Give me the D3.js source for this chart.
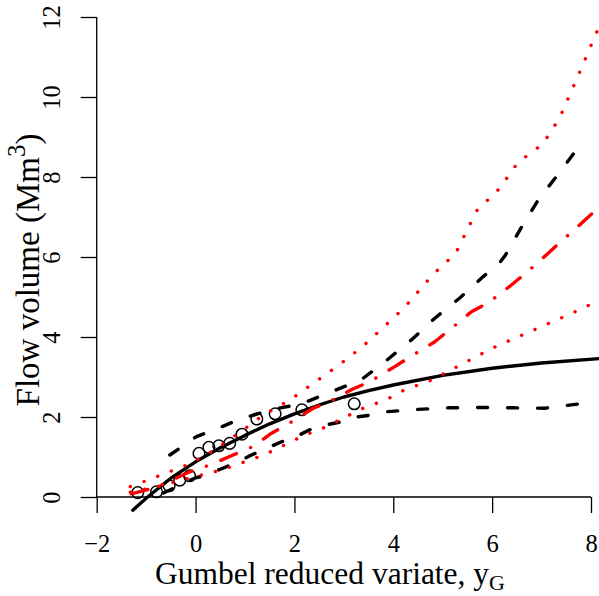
<!DOCTYPE html>
<html>

<head>
    <meta charset="utf-8">
    <style>
        body {
            margin: 0;
            background: #fff;
        }

        svg {
            display: block;
            font-family: 'Liberation Serif', 'Times New Roman', serif;
        }
    </style>
</head>

<body>
    <svg width="599" height="596"></svg>
</body>

<script src="https://d3js.org/d3.v7.min.js"></script>

<script>
    // observed floods (Gringorten positions)
    let obsX = [-1.17, -0.79, -0.535, -0.32, -0.12, 0.07, 0.27, 0.47, 0.69, 0.94, 1.24, 1.61, 2.15, 3.21]
    let obsY = [0.11, 0.13, 0.28, 0.42, 0.53, 1.09, 1.24, 1.28, 1.34, 1.57, 1.95, 2.08, 2.18, 2.33]

    // fitted curve, black solid
    let fitX = [-1.27, -1, -0.5, 0, 0.5, 1, 1.5, 2, 2.5, 3, 3.5, 4, 5, 6, 7, 8.16]
    let fitY = [-0.33, -0.03, 0.47, 0.88, 1.23, 1.54, 1.83, 2.08, 2.3, 2.5, 2.66, 2.8, 3.04, 3.22, 3.35, 3.46]

    // black dashed bounds
    let upX = [-0.52, 0.02, 0.5, 0.88, 1.56, 2.14, 2.71, 3.35, 3.86, 4.37, 4.84, 5.34, 5.82, 6.15, 6.27, 6.61, 6.94, 7.35, 7.78]
    let upY = [1.05, 1.51, 1.74, 1.94, 2.19, 2.33, 2.61, 2.93, 3.41, 3.93, 4.47, 4.97, 5.51, 5.85, 6.05, 6.78, 7.44, 8.09, 8.8]
    let loX = [-0.65, -0.02, 0.22, 0.55, 0.79, 1.13, 1.37, 1.74, 1.97, 2.31, 2.55, 2.95, 3.19, 3.56, 3.83, 4.5, 5.14, 5.78, 6.42, 7.06, 7.78]
    let loY = [0.1, 0.47, 0.55, 0.72, 0.84, 1.05, 1.18, 1.38, 1.47, 1.68, 1.78, 1.88, 1.99, 2.05, 2.13, 2.19, 2.23, 2.24, 2.23, 2.22, 2.33]

    // red dot-dash middle and dotted bounds
    let redX = [-1.3, -0.99, -0.76, -0.12, 0.29, 0.76, 1.16, 1.53, 1.84, 2.38, 2.71, 3.15, 3.52, 4.03, 4.4, 4.84, 5.14, 5.58, 5.95, 6.39, 6.71, 7.13, 7.43, 7.84, 8.18]
    let redY = [0.08, 0.18, 0.26, 0.63, 0.8, 1.05, 1.26, 1.59, 1.8, 2.22, 2.38, 2.68, 2.88, 3.26, 3.55, 3.88, 4.18, 4.63, 4.88, 5.3, 5.63, 6.09, 6.43, 6.88, 7.26]
    let redUpX = [-1.32, -0.8, -0.17, 0.35, 0.9, 1.37, 1.9, 2.38, 2.88, 3.36, 3.58, 4.23, 4.8, 5.26, 5.69, 6.14, 6.52, 7.03, 7.37, 7.76, 8.16]
    let redUpY = [0.26, 0.5, 0.8, 1.15, 1.62, 2.05, 2.42, 2.84, 3.28, 3.74, 3.99, 4.74, 5.56, 6.09, 7.16, 7.7, 8.36, 8.83, 9.49, 10.59, 11.75]
    let redLoX = [-1.32, -0.8, -0.2, 0.54, 1.38, 1.67, 2.21, 2.51, 3.05, 3.33, 3.64, 3.93, 4.2, 4.79, 6.0, 7.35, 7.64, 7.93, 8.16]
    let redLoY = [0.12, 0.25, 0.45, 0.68, 1.05, 1.22, 1.55, 1.68, 2.01, 2.19, 2.33, 2.48, 2.66, 2.93, 3.72, 4.45, 4.61, 4.78, 4.9]

    let xTicks = [-2, 0, 2, 4, 6, 8]
    let yTicks = [0, 2, 4, 6, 8, 10, 12]

    let svg = d3.select("svg")

    let x = d3.scaleLinear().domain([-2, 8]).range([96.7, 591])
    let y = d3.scaleLinear().domain([0, 12]).range([497, 17])

    let fmt = d => d < 0 ? "\u2212" + Math.abs(d) : String(d)

    // axes
    let xAxis = svg.append("g")
        .attr("transform", "translate(0," + y(0) + ")")
        .call(d3.axisBottom(x).tickValues(xTicks).tickSize(16).tickPadding(22).tickFormat(fmt))
    let yAxis = svg.append("g")
        .attr("transform", "translate(" + x(-2) + ",0)")
        .call(d3.axisLeft(y).tickValues(yTicks).tickSize(16).tickFormat(fmt))

    svg.selectAll(".domain, .tick line")
        .attr("stroke", "#000")
        .attr("stroke-width", 1.3)
    xAxis.select(".domain").attr("d", "M" + x(-2) + ",0H" + x(8))
    yAxis.select(".domain").attr("d", "M0," + y(0) + "V" + y(12))

    xAxis.selectAll(".tick text")
        .attr("font-family", "'Liberation Serif', serif")
        .attr("font-size", 24.5)
        .attr("fill", "#000")
    yAxis.selectAll(".tick text")
        .attr("font-family", "'Liberation Serif', serif")
        .attr("font-size", 24.5)
        .attr("fill", "#000")
        .attr("text-anchor", "middle")
        .attr("dy", 0)
        .attr("x", 0)
        .attr("transform", "translate(-37,0) rotate(-90)")

    // axis titles
    let xt = svg.append("text")
        .attr("x", 330)
        .attr("y", 584)
        .attr("text-anchor", "middle")
        .attr("font-size", 31.5)
    xt.append("tspan").text("Gumbel reduced variate, y")
    xt.append("tspan").attr("font-size", 22).attr("dy", 6).text("G")

    let yt = svg.append("text")
        .attr("transform", "translate(39,270) rotate(-90)")
        .attr("text-anchor", "middle")
        .attr("font-size", 33)
    yt.append("tspan").text("Flow volume (Mm")
    yt.append("tspan").attr("font-size", 25).attr("dy", -14).text("3")
    yt.append("tspan").attr("dy", 14).text(")")

    // observed points
    svg.append("g")
        .selectAll("circle")
        .data(obsX)
        .join("circle")
        .attr("cx", d => x(d))
        .attr("cy", (d, i) => y(obsY[i]))
        .attr("r", 5.8)
        .attr("fill", "none")
        .attr("stroke", "#000")
        .attr("stroke-width", 1.5)

    let line = d3.line().x(d => x(d[0])).y(d => y(d[1]))

    let series = [
        { xs: fitX, ys: fitY, color: "#000", dash: null },
        { xs: upX, ys: upY, color: "#000", dash: "10 20" },
        { xs: loX, ys: loY, color: "#000", dash: "10 20" },
        { xs: redX, ys: redY, color: "#ff0000", dash: "17 15.4 0.1 15.4" },
        { xs: redUpX, ys: redUpY, color: "#ff0000", dash: "0.1 14.5" },
        { xs: redLoX, ys: redLoY, color: "#ff0000", dash: "0.1 14.5" }
    ]

    svg.append("g")
        .selectAll("path")
        .data(series)
        .join("path")
        .attr("d", s => line(s.xs.map((v, i) => [v, s.ys[i]])))
        .attr("fill", "none")
        .attr("stroke", s => s.color)
        .attr("stroke-width", 3.4)
        .attr("stroke-linecap", "round")
        .attr("stroke-linejoin", "round")
        .attr("stroke-dasharray", s => s.dash)
</script>

</html>
